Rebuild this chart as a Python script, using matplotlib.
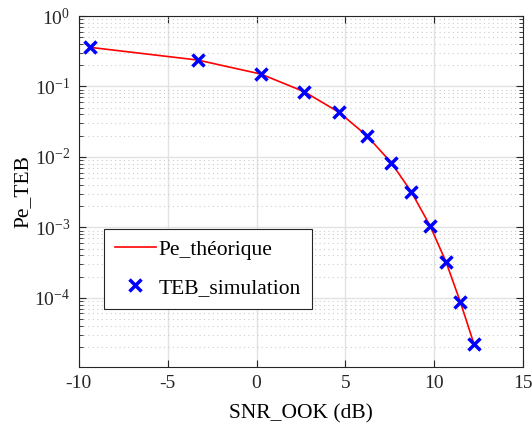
import matplotlib
matplotlib.use('Agg')
import matplotlib.pyplot as plt

plt.rcParams['font.family'] = ['Liberation Serif', 'DejaVu Serif']
plt.rcParams['mathtext.fontset'] = 'custom'
plt.rcParams['mathtext.rm'] = 'Liberation Serif'
plt.rcParams['axes.unicode_minus'] = False

snr_db = [-9.36, -3.31, 0.24, 2.69, 4.64, 6.20, 7.58, 8.71, 9.76, 10.66, 11.46, 12.23]
pe_theo = [0.359, 0.237, 0.150, 0.084, 0.0429, 0.0200, 0.00825, 0.00316, 0.00105, 3.2e-4, 8.7e-5, 2.19e-5]
teb_sim = [0.359, 0.237, 0.150, 0.084, 0.0429, 0.0200, 0.00825, 0.00316, 0.00105, 3.2e-4, 8.7e-5, 2.19e-5]
x_ticks = [-10, -5, 0, 5, 10, 15]

fig = plt.figure(figsize=(5.32, 4.26), dpi=100)
ax = fig.add_axes([78.7 / 532, 1 - 366.7 / 426, (523.3 - 78.7) / 532, (366.7 - 16) / 426])

ax.semilogy(snr_db, pe_theo, color='red', lw=1.2, label='Pe_théorique')
ax.semilogy(snr_db, teb_sim, 'x', color='blue', ms=8, mew=2.5, label='TEB_simulation')

ax.set_xlim(-10, 15)
ax.set_ylim(1.05e-5, 1)
ax.set_xticks(x_ticks)
ax.set_xticklabels([str(v) for v in x_ticks])
ax.set_yticks([1e-4, 1e-3, 1e-2, 1e-1, 1e0])

ax.grid(True, which='major', color='#e2e2e2', lw=1.0)
ax.grid(True, which='minor', axis='y', color='#cccccc', ls=(0, (1, 3)), lw=0.8)
ax.set_axisbelow(True)

ax.tick_params(which='both', direction='in', top=True, right=True, labelsize=14, colors='#262626')
ax.tick_params(which='major', length=5, pad=6)
ax.tick_params(which='minor', length=3)
for s in ax.spines.values():
    s.set_color('#262626')
    s.set_linewidth(0.8)

ax.set_xlabel('SNR_OOK (dB)', fontsize=15.5, labelpad=9)
ax.set_ylabel('Pe_TEB', fontsize=15.5, labelpad=1)

leg = ax.legend(loc='upper left', bbox_to_anchor=((104 - 78.7) / 444.6, (366.7 - 228.7) / 350.7),
                borderaxespad=0, fontsize=15.5, fancybox=False, edgecolor='#262626', framealpha=1,
                borderpad=0.5, labelspacing=0.85, handlelength=1.9, handletextpad=0.15)
leg.get_frame().set_linewidth(0.8)

fig.savefig('out.png', dpi=100)
